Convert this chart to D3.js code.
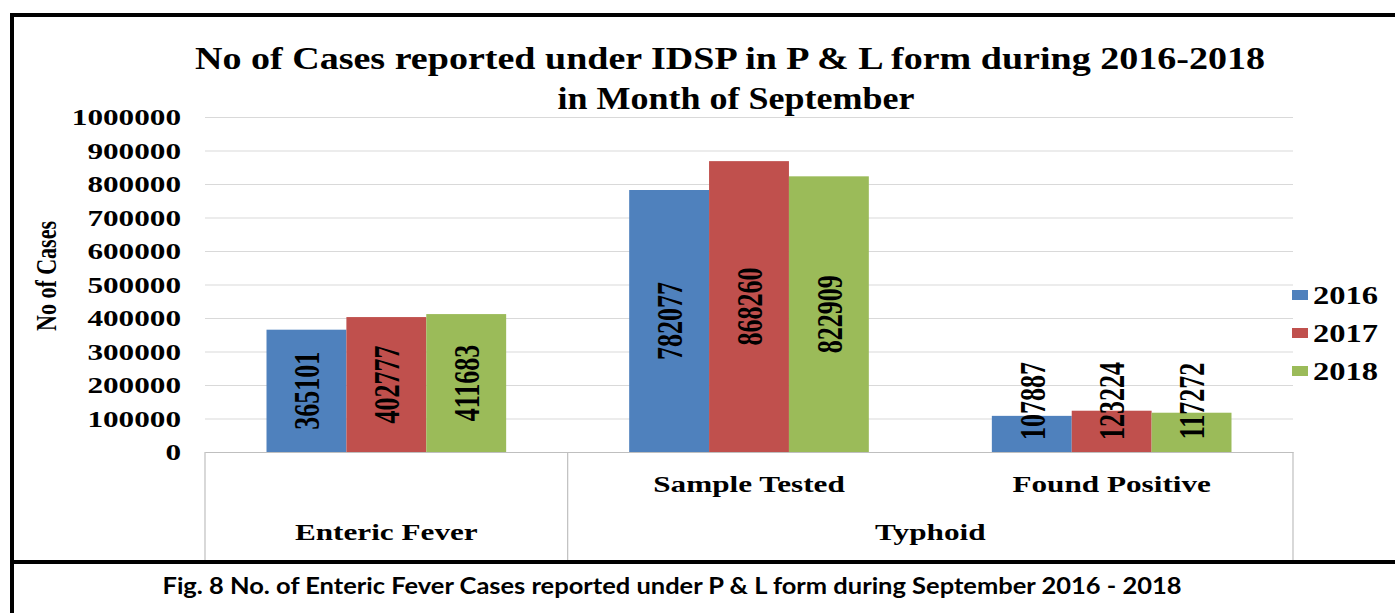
<!DOCTYPE html>
<html>
<head>
<meta charset="utf-8">
<script src="https://cdn.jsdelivr.net/npm/d3@7"></script>
<style>
  body { margin: 0; background: #fff; }
  svg { display: block; }
</style>
</head>
<body>
<script>
// data
const categories = ["Enteric Fever", "Sample Tested", "Found Positive"];
const subLabels = ["", "Sample Tested", "Found Positive"];
const groups = ["Enteric Fever", "Typhoid"];
const groupMembers = [["Enteric Fever"], ["Sample Tested", "Found Positive"]];
const years = ["2016", "2017", "2018"];
const cases2016 = [365101, 782077, 107887];
const cases2017 = [402777, 868260, 123224];
const cases2018 = [411683, 822909, 117272];
const yTicks = [0, 100000, 200000, 300000, 400000, 500000, 600000, 700000, 800000, 900000, 1000000];

let width = 1395;
let height = 613;
let serif = "'Liberation Serif', 'Times New Roman', serif";
let sx = 1.3; // the source picture is stretched sideways

let plot = { left: 205, right: 1293, top: 117, bottom: 452 };

let series = years.map((yr, i) => ({ year: yr, values: [cases2016, cases2017, cases2018][i] }));

let color = d3.scaleOrdinal().domain(years).range(["#4F81BD", "#C0504D", "#9BBB59"]);

let x = d3.scaleBand().domain(categories).range([plot.left, plot.right]);
let xYear = d3.scaleBand().domain(years).range([0, x.bandwidth()]).paddingOuter(0.77);
let y = d3.scaleLinear().domain([0, 1000000]).range([plot.bottom, plot.top]);

let svg = d3.select("body").append("svg").attr("width", width).attr("height", height);
svg.append("rect").attr("width", width).attr("height", height).attr("fill", "#fff");

// widen a horizontal text by the stretch factor
let stretch = (sel, f) =>
  sel.each(function() {
    let len = this.getComputedTextLength();
    d3.select(this).attr("textLength", len * f).attr("lengthAdjust", "spacingAndGlyphs");
  });

// title
let title = svg.append("g").attr("font-family", serif).attr("font-weight", "bold").attr("font-size", 32).attr("text-anchor", "middle");
title.append("text").attr("x", 730).attr("y", 69)
  .text("No of Cases reported under IDSP in P & L form during 2016-2018")
  .attr("textLength", 1070).attr("lengthAdjust", "spacingAndGlyphs");
title.append("text").attr("x", 736).attr("y", 109)
  .text("in Month of September")
  .attr("textLength", 357).attr("lengthAdjust", "spacingAndGlyphs");

// gridlines
svg.append("g")
  .attr("transform", `translate(${plot.left},0)`)
  .call(d3.axisLeft(y).tickValues(yTicks).tickSize(-(plot.right - plot.left)).tickFormat(""))
  .call(g => g.select(".domain").remove())
  .call(g => g.selectAll("line").attr("stroke", "#d9d9d9").attr("stroke-width", 1.2));

// y labels
svg.append("g")
  .attr("transform", `translate(${plot.left},0)`)
  .call(d3.axisLeft(y).tickValues(yTicks).tickSize(0).tickPadding(24).tickFormat(d => String(d)))
  .call(g => g.select(".domain").remove())
  .call(g =>
    g.selectAll("text")
      .attr("font-family", serif)
      .attr("font-weight", "bold")
      .attr("font-size", 24)
      .attr("fill", "#000")
      .call(stretch, sx)
  );

// y title
svg.append("text")
  .attr("transform", `translate(46,276) scale(1.35,1) rotate(-90)`)
  .attr("text-anchor", "middle")
  .attr("dy", "0.35em")
  .attr("font-family", serif)
  .attr("font-weight", "bold")
  .attr("font-size", 22)
  .text("No of Cases");

// bars
let cat = svg.selectAll(".cat")
  .data(categories)
  .enter()
  .append("g")
  .attr("class", "cat")
  .attr("transform", d => `translate(${x(d)},0)`);

cat.selectAll("rect")
  .data((d, j) => series.map(s => ({ year: s.year, value: s.values[j] })))
  .enter()
  .append("rect")
  .attr("x", d => xYear(d.year))
  .attr("width", xYear.bandwidth())
  .attr("y", d => y(d.value))
  .attr("height", d => y(0) - y(d.value))
  .attr("fill", d => color(d.year));

// value labels, kept inside the plot when the bar is short
cat.selectAll("text")
  .data((d, j) => series.map(s => ({ year: s.year, value: s.values[j] })))
  .enter()
  .append("text")
  .attr("transform", d => {
    let cx = xYear(d.year) + xYear.bandwidth() / 2;
    let cy = Math.min((y(d.value) + y(0)) / 2, y(0) - 51);
    return `translate(${cx},${cy}) scale(1.4,1) rotate(-90)`;
  })
  .attr("text-anchor", "middle")
  .attr("dy", "0.35em")
  .attr("font-family", serif)
  .attr("font-weight", "bold")
  .attr("font-size", 26)
  .attr("fill", "#000")
  .text(d => d.value);

// category axis
svg.append("g")
  .attr("transform", `translate(0,${plot.bottom})`)
  .call(d3.axisBottom(x).tickSize(0).tickPadding(23).tickFormat((d, i) => subLabels[i]))
  .call(g => g.select(".domain").attr("stroke", "#bfbfbf").attr("stroke-width", 1.2))
  .call(g =>
    g.selectAll("text")
      .attr("font-family", serif)
      .attr("font-weight", "bold")
      .attr("font-size", 24)
      .attr("fill", "#000")
      .call(stretch, sx)
  );

// group labels and separators
let groupSpan = groupMembers.map(m => [x(m[0]), x(m[m.length - 1]) + x.bandwidth()]);
let bounds = [plot.left].concat(groupSpan.map(s => s[1]));

svg.append("g")
  .selectAll("line")
  .data(bounds)
  .enter()
  .append("line")
  .attr("x1", d => d)
  .attr("x2", d => d)
  .attr("y1", plot.bottom)
  .attr("y2", 562)
  .attr("stroke", "#bfbfbf")
  .attr("stroke-width", 1.2);

svg.append("g")
  .selectAll("text")
  .data(groups)
  .enter()
  .append("text")
  .attr("x", (d, i) => (groupSpan[i][0] + groupSpan[i][1]) / 2)
  .attr("y", 540)
  .attr("text-anchor", "middle")
  .attr("font-family", serif)
  .attr("font-weight", "bold")
  .attr("font-size", 24)
  .text(d => d)
  .call(stretch, sx);

// legend
let legend = svg.append("g")
  .selectAll("g")
  .data(years)
  .enter()
  .append("g")
  .attr("transform", (d, i) => `translate(1292,${295 + i * 38})`);

legend.append("rect")
  .attr("x", 0)
  .attr("y", -5)
  .attr("width", 16)
  .attr("height", 10)
  .attr("fill", d => color(d));

legend.append("text")
  .attr("x", 21)
  .attr("y", 9)
  .attr("font-family", serif)
  .attr("font-weight", "bold")
  .attr("font-size", 25)
  .text(d => d)
  .call(stretch, sx);

// frame
let frame = svg.append("g").attr("stroke", "#000").attr("stroke-width", 4);
frame.append("line").attr("x1", 10).attr("x2", width).attr("y1", 15).attr("y2", 15);
frame.append("line").attr("x1", 12).attr("x2", 12).attr("y1", 13).attr("y2", height);
frame.append("line").attr("x1", 10).attr("x2", width).attr("y1", 562).attr("y2", 562);

// caption
svg.append("text")
  .attr("x", 672)
  .attr("y", 594)
  .attr("text-anchor", "middle")
  .attr("font-family", "Lato, 'Open Sans', sans-serif")
  .attr("font-weight", "bold")
  .attr("font-size", 23)
  .attr("textLength", 1019)
  .attr("lengthAdjust", "spacingAndGlyphs")
  .text("Fig. 8 No. of Enteric Fever Cases reported under P & L form during September 2016 - 2018");
</script>
</body>
</html>
